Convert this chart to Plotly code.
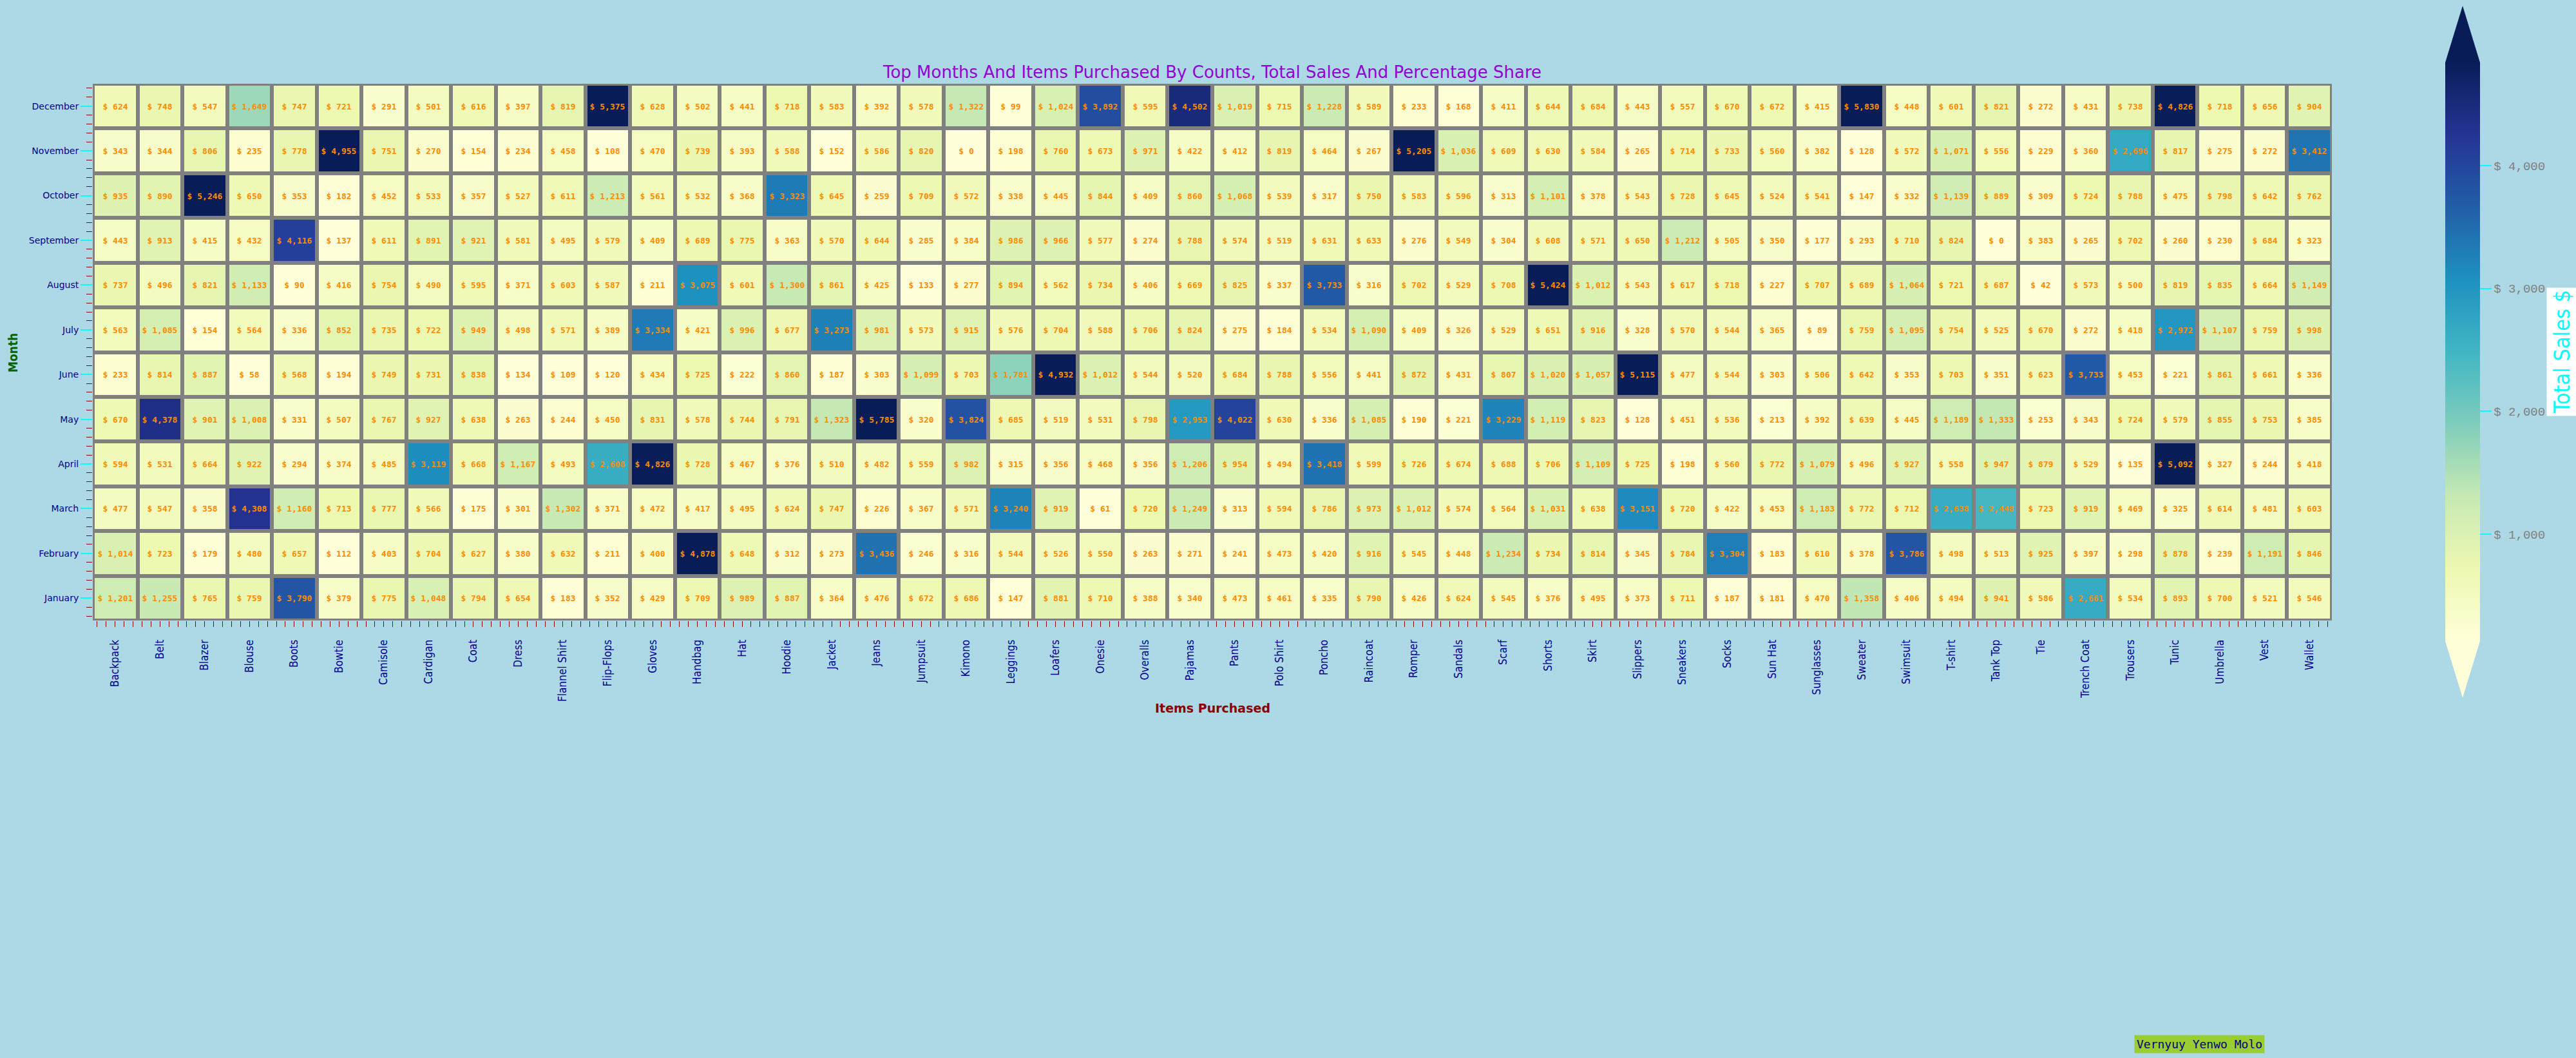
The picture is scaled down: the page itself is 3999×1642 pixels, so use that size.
import plotly.graph_objects as go

# ---------------- data ----------------
items = ["Backpack", "Belt", "Blazer", "Blouse", "Boots", "Bowtie", "Camisole", "Cardigan", "Coat", "Dress",
         "Flannel Shirt", "Flip-Flops", "Gloves", "Handbag", "Hat", "Hoodie", "Jacket", "Jeans", "Jumpsuit", "Kimono",
         "Leggings", "Loafers", "Onesie", "Overalls", "Pajamas", "Pants", "Polo Shirt", "Poncho", "Raincoat", "Romper",
         "Sandals", "Scarf", "Shorts", "Skirt", "Slippers", "Sneakers", "Socks", "Sun Hat", "Sunglasses", "Sweater",
         "Swimsuit", "T-shirt", "Tank Top", "Tie", "Trench Coat", "Trousers", "Tunic", "Umbrella", "Vest", "Wallet"]

months = ["January", "February", "March", "April", "May", "June",
          "July", "August", "September", "October", "November", "December"]

sales_jan = [1201, 1255, 765, 759, 3790, 379, 775, 1048, 794, 654,
             183, 352, 429, 709, 989, 887, 364, 476, 672, 686,
             147, 881, 710, 388, 340, 473, 461, 335, 790, 426,
             624, 545, 376, 495, 373, 711, 187, 181, 470, 1358,
             406, 494, 941, 586, 2661, 534, 893, 700, 521, 546]
sales_feb = [1014, 723, 179, 480, 657, 112, 403, 704, 627, 380,
             632, 211, 400, 4878, 648, 312, 273, 3436, 246, 316,
             544, 526, 550, 263, 271, 241, 473, 420, 916, 545,
             448, 1234, 734, 814, 345, 784, 3304, 183, 610, 378,
             3786, 498, 513, 925, 397, 298, 878, 239, 1191, 846]
sales_mar = [477, 547, 358, 4308, 1160, 713, 777, 566, 175, 301,
             1302, 371, 472, 417, 495, 624, 747, 226, 367, 571,
             3240, 919, 61, 720, 1249, 313, 594, 786, 973, 1012,
             574, 564, 1031, 638, 3151, 720, 422, 453, 1183, 772,
             712, 2638, 2448, 723, 919, 469, 325, 614, 481, 603]
sales_apr = [594, 531, 664, 922, 294, 374, 485, 3119, 668, 1167,
             493, 2608, 4826, 728, 467, 376, 510, 482, 559, 982,
             315, 356, 468, 356, 1206, 954, 494, 3418, 599, 726,
             674, 688, 706, 1109, 725, 198, 560, 772, 1079, 496,
             927, 558, 947, 879, 529, 135, 5092, 327, 244, 418]
sales_may = [670, 4378, 901, 1008, 331, 507, 767, 927, 638, 263,
             244, 450, 831, 578, 744, 791, 1323, 5785, 320, 3824,
             685, 519, 531, 798, 2953, 4022, 630, 336, 1085, 190,
             221, 3229, 1119, 823, 128, 451, 536, 213, 392, 639,
             445, 1189, 1333, 253, 343, 724, 579, 855, 753, 385]
sales_jun = [233, 814, 887, 58, 568, 194, 749, 731, 838, 134,
             109, 120, 434, 725, 222, 860, 187, 303, 1099, 703,
             1781, 4932, 1012, 544, 520, 684, 788, 556, 441, 872,
             431, 807, 1020, 1057, 5115, 477, 544, 303, 506, 642,
             353, 703, 351, 623, 3733, 453, 221, 861, 661, 336]
sales_jul = [563, 1085, 154, 564, 336, 852, 735, 722, 949, 498,
             571, 389, 3334, 421, 996, 677, 3273, 981, 573, 915,
             576, 704, 588, 706, 824, 275, 184, 534, 1090, 409,
             326, 529, 651, 916, 328, 570, 544, 365, 89, 759,
             1095, 754, 525, 670, 272, 418, 2972, 1107, 759, 998]
sales_aug = [737, 496, 821, 1133, 90, 416, 754, 490, 595, 371,
             603, 587, 211, 3075, 601, 1300, 861, 425, 133, 277,
             894, 562, 734, 406, 669, 825, 337, 3733, 316, 702,
             529, 708, 5424, 1012, 543, 617, 718, 227, 707, 689,
             1064, 721, 687, 42, 573, 500, 819, 835, 664, 1149]
sales_sep = [443, 913, 415, 432, 4116, 137, 611, 891, 921, 581,
             495, 579, 409, 689, 775, 363, 570, 644, 285, 384,
             986, 966, 577, 274, 788, 574, 519, 631, 633, 276,
             549, 304, 608, 571, 650, 1212, 505, 350, 177, 293,
             710, 824, 0, 383, 265, 702, 260, 230, 684, 323]
sales_oct = [935, 890, 5246, 650, 353, 182, 452, 533, 357, 527,
             611, 1213, 561, 532, 368, 3323, 645, 259, 709, 572,
             338, 445, 844, 409, 860, 1068, 539, 317, 750, 583,
             596, 313, 1101, 378, 543, 728, 645, 524, 541, 147,
             332, 1139, 889, 309, 724, 788, 475, 798, 642, 762]
sales_nov = [343, 344, 806, 235, 778, 4955, 751, 270, 154, 234,
             458, 108, 470, 739, 393, 588, 152, 586, 820, 0,
             198, 760, 673, 971, 422, 412, 819, 464, 267, 5205,
             1036, 609, 630, 584, 265, 714, 733, 560, 382, 128,
             572, 1071, 556, 229, 360, 2696, 817, 275, 272, 3412]
sales_dec = [624, 748, 547, 1649, 747, 721, 291, 501, 616, 397,
             819, 5375, 628, 502, 441, 718, 583, 392, 578, 1322,
             99, 1024, 3892, 595, 4502, 1019, 715, 1228, 589, 233,
             168, 411, 644, 684, 443, 557, 670, 672, 415, 5830,
             448, 601, 821, 272, 431, 738, 4826, 718, 656, 904]

cbar_ticks = [1000, 2000, 3000, 4000]
cbar_ticktext = ["$ 1,000", "$ 2,000", "$ 3,000", "$ 4,000"]
z_min, z_max = 130, 4840

z = [sales_jan, sales_feb, sales_mar, sales_apr, sales_may, sales_jun,
     sales_jul, sales_aug, sales_sep, sales_oct, sales_nov, sales_dec]

# ---------------- layout geometry (pixels) ----------------
W, H = 3999, 1642
PL, PR, PT, PB = 144, 3620, 130, 963


def px_x(px):
    return (px - PL) / (PR - PL)


def px_y(py):
    return (PB - py) / (PB - PT)


x_idx = list(range(len(items)))
y_idx = list(range(len(months)))

BAR_L, BAR_R, BAR_T, BAR_B = 3796, 3850, 97, 995

fig = go.Figure(go.Heatmap(
    z=z, x=x_idx, y=y_idx,
    colorscale="YlGnBu", zmin=z_min, zmax=z_max,
    xgap=6, ygap=6,
    texttemplate="$ %{z:,.0f}",
    textfont=dict(family="DejaVu Sans Mono", size=13, color="#FF8C00", weight="bold"),
    hovertemplate="%{z}<extra></extra>",
    colorbar=dict(
        xref="paper", x=px_x(BAR_L), xanchor="left", xpad=0,
        yref="paper", y=px_y((BAR_T + BAR_B) / 2), yanchor="middle", ypad=0,
        thickness=BAR_R - BAR_L, thicknessmode="pixels",
        len=BAR_B - BAR_T, lenmode="pixels",
        outlinewidth=0,
        tickvals=cbar_ticks, ticktext=cbar_ticktext,
        ticks="outside", ticklen=18, tickwidth=2, tickcolor="cyan",
        tickfont=dict(family="Liberation Mono", size=19, color="#808080"),
    ),
))

axis_common = dict(showgrid=False, zeroline=False, showline=False)

fig.update_xaxes(
    range=[-0.5, len(items) - 0.5], tickvals=x_idx, ticktext=items, tickangle=-90,
    ticks="outside", ticklen=22, tickcolor="rgba(0,0,0,0)",
    tickfont=dict(family="Liberation Sans Narrow, DejaVu Sans Condensed", size=17, color="#00008B"),
    minor=dict(dtick=0.2, tick0=0, ticks="outside", ticklen=9, tickwidth=1, tickcolor="#8B0000"),
    **axis_common)
fig.update_yaxes(
    range=[-0.5, len(months) - 0.5], tickvals=y_idx, ticktext=months,
    ticks="outside", ticklen=18, tickwidth=2, tickcolor="cyan",
    tickfont=dict(family="DejaVu Sans", size=14, color="#00008B"),
    minor=dict(dtick=0.2, tick0=0, ticks="outside", ticklen=9, tickwidth=1, tickcolor="#8B0000"),
    **axis_common)


def tri(points):
    pts = [(px_x(a), px_y(b)) for a, b in points]
    return "M " + " L ".join(f"{a},{b}" for a, b in pts) + " Z"


cx = (BAR_L + BAR_R) / 2
fig.add_shape(type="path", xref="paper", yref="paper", layer="above",
              path=tri([(BAR_L, BAR_T), (BAR_R, BAR_T), (cx, 9)]),
              fillcolor="#081d58", line=dict(width=0))
fig.add_shape(type="path", xref="paper", yref="paper", layer="above",
              path=tri([(BAR_L, BAR_B), (BAR_R, BAR_B), (cx, 1083)]),
              fillcolor="#ffffd9", line=dict(width=0))

ann_common = dict(xref="paper", yref="paper", showarrow=False, xanchor="center", yanchor="middle")
fig.add_annotation(text="Total Sales $", textangle=-90, x=px_x(3977), y=px_y(546),
                   font=dict(family="Liberation Sans Narrow, DejaVu Sans Condensed", size=34, color="cyan"),
                   bgcolor="white", borderpad=3, **ann_common)
fig.add_annotation(text="<b>Items Purchased</b>", x=0.5, y=px_y(1099),
                   font=dict(family="DejaVu Sans", size=19, color="#8B0000"), **ann_common)
fig.add_annotation(text="<b>Month</b>", textangle=-90, x=px_x(20), y=px_y(548),
                   font=dict(family="DejaVu Sans Condensed, DejaVu Sans", size=19, color="#006400"),
                   **ann_common)
fig.add_annotation(text="Vernyuy Yenwo Molo", x=px_x(3414), y=px_y(1621),
                   font=dict(family="DejaVu Sans Mono", size=18, color="#000080"),
                   bgcolor="#9ACD32", borderpad=3, **ann_common)

fig.update_layout(
    width=W, height=H, autosize=False,
    margin=dict(l=PL, r=W - PR, t=PT, b=H - PB, pad=0),
    paper_bgcolor="#ADD8E6", plot_bgcolor="#808080",
    title=dict(text="Top Months And Items Purchased By Counts, Total Sales And Percentage Share",
               x=0.5, xref="paper", xanchor="center", y=1 - 112 / H, yref="container", yanchor="middle",
               font=dict(family="DejaVu Sans", size=26, color="#9400D3")),
)

fig.write_html("out.html", config={"displayModeBar": False},
               post_script="document.body.style.margin='0';")
